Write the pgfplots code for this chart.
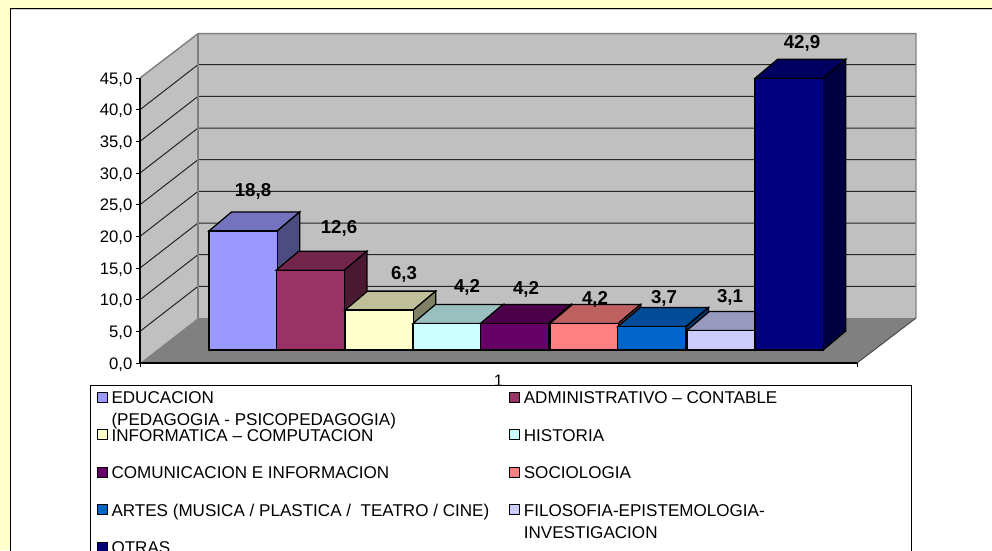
\documentclass[border=0pt]{standalone}
\usepackage{fontspec}
\setmainfont{Liberation Sans}
\usepackage{pgfplots}
\pgfplotsset{compat=1.18}
\definecolor{pagey}{HTML}{FFFFCC}
\definecolor{wall}{HTML}{C0C0C0}
\definecolor{floorg}{HTML}{808080}
\definecolor{cA}{HTML}{9999FF}
\definecolor{cB}{HTML}{993366}
\definecolor{cC}{HTML}{FFFFCC}
\definecolor{cD}{HTML}{CCFFFF}
\definecolor{cE}{HTML}{660066}
\definecolor{cF}{HTML}{FF8080}
\definecolor{cG}{HTML}{0066CC}
\definecolor{cH}{HTML}{CCCCFF}
\definecolor{cI}{HTML}{000080}

% one 3D bar: left edge (px), value, colour. base sits 2.05 units above the front floor edge
\newcommand{\threedbar}[3]{%
  \addplot[forget plot, draw=black, line width=0.95pt, fill=#3!75!black] coordinates
    {(#1,{#2+2.05}) ({#1+68.2},{#2+2.05}) ({#1+90.7},{#2+5.05}) ({#1+22.5},{#2+5.05})} -- cycle;
  \addplot[forget plot, draw=black, line width=0.95pt, fill=#3!50!black] coordinates
    {({#1+68.2},2.05) ({#1+90.7},5.05) ({#1+90.7},{#2+5.05}) ({#1+68.2},{#2+2.05})} -- cycle;
  \addplot[forget plot, draw=black, line width=0.95pt, fill=#3] coordinates
    {(#1,2.05) ({#1+68.2},2.05) ({#1+68.2},{#2+2.05}) (#1,{#2+2.05})} -- cycle;
}
\newcommand{\lgdimg}[1]{\addlegendimage{legend image code/.code={%
  \draw[draw=black, line width=0.75pt, fill=#1] (0pt,1pt) rectangle (7.5pt,8.5pt);
  \path (10.5pt,0pt);}}}
\newcommand{\lgdtext}[2]{\makebox[#1][l]{\rule[-14.8pt]{0pt}{28.3pt}#2}}
\newcommand{\second}[1]{\smash{\rlap{\raisebox{-16.5pt}{#1}}}}

\begin{document}
\begin{tikzpicture}[x=0.75pt,y=-0.75pt]
\path[use as bounding box, clip] (0,0) rectangle (992,550);
\fill[pagey] (0,0) rectangle (992,550);
\fill[white, draw=black, line width=0.75pt] (10.5,8.5) rectangle (1000,560);
\draw[black!20, line width=0.75pt] (11,9.5) -- (992,9.5);
\begin{axis}[
  at={(105pt,-272.25pt)}, anchor=south west,
  scale only axis, width=537.75pt, height=213.75pt,
  xmin=140, xmax=857, ymin=0, ymax=45,
  clip=false, axis on top,
  axis x line=bottom, axis y line=left,
  axis line style={-, black, line width=0.85pt},
  xtick={140,857}, xticklabels={,},
  extra x ticks={498.5}, extra x tick labels={1},
  extra x tick style={major tick length=0pt},
  ytick={0,5,...,45},
  tick style={black, line width=0.6pt},
  tick align=outside, major tick length=3pt,
  /pgf/number format/use comma, /pgf/number format/fixed,
  /pgf/number format/fixed zerofill, /pgf/number format/precision=1,
  /pgf/number format/assume math mode=true,
  ticklabel style={font=\fontsize{12.5}{14}\selectfont},
  y tick label style={inner xsep=1.5pt, xshift=-1pt, yshift=-1pt},
  x tick label style={inner ysep=0pt, yshift=-9pt},
  legend columns=2,
  legend cell align=left,
  legend style={
    at={(-0.0697,-0.0772)}, anchor=north west, cells={anchor=base west},
    draw=black, line width=0.75pt, fill=white,
    inner xsep=4.5pt, inner ysep=0pt, row sep=13.2pt, column sep=0pt,
    nodes={inner sep=0pt, font=\fontsize{12.8}{14}\selectfont},
  },
]
% walls and floor
\addplot[forget plot, fill=wall, draw=none] coordinates {(198,7.1) (916,7.1) (916,52) (198,52)} -- cycle;
\addplot[forget plot, fill=wall, draw=none] coordinates {(140,0) (198,7.1) (198,52) (140,45)} -- cycle;
\addplot[forget plot, fill=floorg, draw=none] coordinates {(140,0) (198,7.1) (916,7.1) (857,0)} -- cycle;
\pgfplotsinvokeforeach{5,10,...,40}{
  \addplot[forget plot, draw=black!85, line width=0.75pt] coordinates {(140,#1) (198,{#1+7.1}) (916,{#1+7.1})};
}
\addplot[forget plot, draw=floorg, line width=1.1pt] coordinates {(140,45) (198,52) (916,52) (916,7.1)};
\addplot[forget plot, draw=floorg, line width=1.1pt] coordinates {(198,52) (198,7.1)};
\addplot[forget plot, draw=black!70, line width=0.75pt] coordinates {(916,7.1) (857,0)};
% bars
\threedbar{209}{18.8}{cA}
\threedbar{276.2}{12.6}{cB}
\threedbar{345}{6.3}{cC}
\threedbar{413}{4.2}{cD}
\threedbar{480.5}{4.2}{cE}
\threedbar{550}{4.2}{cF}
\threedbar{617.7}{3.7}{cG}
\threedbar{687}{3.1}{cH}
\threedbar{755}{42.9}{cI}
% legend
\lgdimg{cA}\addlegendentry{\lgdtext{298pt}{\second{(PEDAGOGIA - PSICOPEDAGOGIA)}EDUCACION}}
\lgdimg{cB}\addlegendentry{\lgdtext{286.5pt}{ADMINISTRATIVO – CONTABLE}}
\lgdimg{cC}\addlegendentry{\lgdtext{298pt}{INFORMATICA – COMPUTACION}}
\lgdimg{cD}\addlegendentry{\lgdtext{286.5pt}{HISTORIA}}
\lgdimg{cE}\addlegendentry{\lgdtext{298pt}{COMUNICACION E INFORMACION}}
\lgdimg{cF}\addlegendentry{\lgdtext{286.5pt}{SOCIOLOGIA}}
\lgdimg{cG}\addlegendentry{\lgdtext{298pt}{ARTES (MUSICA / PLASTICA /\ \ TEATRO / CINE)}}
\lgdimg{cH}\addlegendentry{\lgdtext{286.5pt}{\second{INVESTIGACION}FILOSOFIA-EPISTEMOLOGIA-}}
\lgdimg{cI}\addlegendentry{\lgdtext{298pt}{OTRAS}}
\end{axis}
% data labels
\foreach \xx/\yy/\tt in {253/191/{18,8}, 339/228/{12,6}, 404/274/{6,3}, 467/287/{4,2}, 526/289/{4,2}, 595/299/{4,2}, 664/298/{3,7}, 730/297/{3,1}, 802/43/{42,9}}
  \node[font=\fontsize{14}{14}\selectfont\bfseries, inner sep=0pt] at (\xx,\yy) {\tt};
\end{tikzpicture}
\end{document}
